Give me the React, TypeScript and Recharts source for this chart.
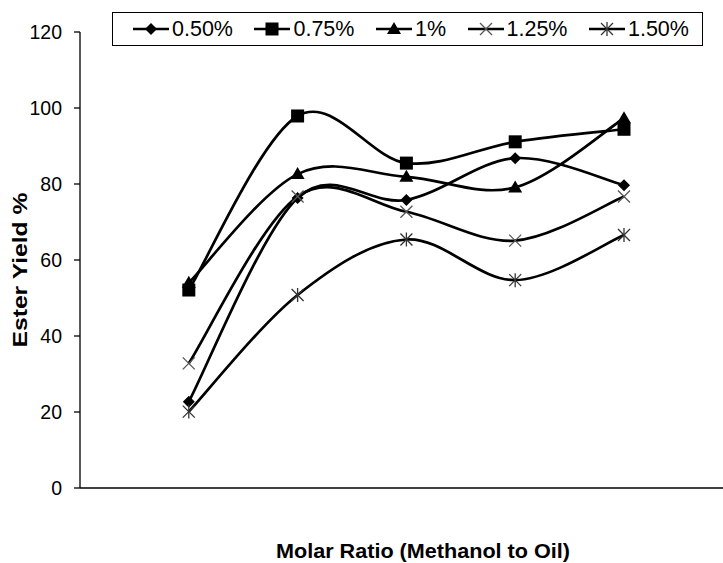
import React from 'react';
import { LineChart, Line, XAxis, YAxis, Label } from 'recharts';

// molar ratio steps (no tick labels shown on the original)
const ratioSteps = [1, 2, 3, 4, 5];
const yTicks = [0, 20, 40, 60, 80, 100, 120];

// ester yield % per catalyst concentration
const cat050 = [22.7, 76.3, 75.8, 86.8, 79.7];
const cat075 = [52.1, 97.9, 85.5, 91.1, 94.4];
const cat100 = [54.0, 82.6, 81.9, 79.1, 97.3];
const cat125 = [32.8, 76.7, 72.7, 65.1, 76.7];
const cat150 = [20.1, 50.8, 65.4, 54.7, 66.6];

const seriesNames = ['0.50%', '0.75%', '1%', '1.25%', '1.50%'];

const FONT = '"Liberation Sans", Arial, sans-serif';

const chartData = ratioSteps.map((x, i) => ({
  x,
  s050: cat050[i],
  s075: cat075[i],
  s100: cat100[i],
  s125: cat125[i],
  s150: cat150[i],
}));

// Excel-like smoothed line (Catmull-Rom through every point)
function excelSmooth(context: any) {
  let pts: [number, number][] = [];
  return {
    areaStart() {},
    areaEnd() {},
    lineStart() {
      pts = [];
    },
    lineEnd() {
      const n = pts.length;
      if (!n) return;
      context.moveTo(pts[0][0], pts[0][1]);
      for (let i = 0; i < n - 1; i++) {
        const p0 = pts[Math.max(i - 1, 0)];
        const p1 = pts[i];
        const p2 = pts[i + 1];
        const p3 = pts[Math.min(i + 2, n - 1)];
        context.bezierCurveTo(
          p1[0] + (p2[0] - p0[0]) / 6,
          p1[1] + (p2[1] - p0[1]) / 6,
          p2[0] - (p3[0] - p1[0]) / 6,
          p2[1] - (p3[1] - p1[1]) / 6,
          p2[0],
          p2[1]
        );
      }
    },
    point(x: number, y: number) {
      pts.push([+x, +y]);
    },
  };
}

type MarkProps = { cx?: number; cy?: number };

const Diamond = ({ cx = 0, cy = 0 }: MarkProps) => (
  <polygon points={`${cx},${cy - 6} ${cx + 6},${cy} ${cx},${cy + 6} ${cx - 6},${cy}`} fill="#000" />
);
const Square = ({ cx = 0, cy = 0 }: MarkProps) => (
  <rect x={cx - 6.5} y={cy - 6.5} width={13} height={13} fill="#000" />
);
const Triangle = ({ cx = 0, cy = 0 }: MarkProps) => (
  <polygon points={`${cx},${cy - 7} ${cx + 7},${cy + 5} ${cx - 7},${cy + 5}`} fill="#000" />
);
const Cross = ({ cx = 0, cy = 0 }: MarkProps) => (
  <g stroke="#555" strokeWidth={1.3}>
    <line x1={cx - 6} y1={cy - 6} x2={cx + 6} y2={cy + 6} />
    <line x1={cx - 6} y1={cy + 6} x2={cx + 6} y2={cy - 6} />
  </g>
);
const Star = ({ cx = 0, cy = 0 }: MarkProps) => (
  <g stroke="#333" strokeWidth={1.3}>
    <line x1={cx - 6} y1={cy - 6} x2={cx + 6} y2={cy + 6} />
    <line x1={cx - 6} y1={cy + 6} x2={cx + 6} y2={cy - 6} />
    <line x1={cx} y1={cy - 7} x2={cx} y2={cy + 7} />
  </g>
);

const markers = [Diamond, Square, Triangle, Cross, Star];
const keys = ['s050', 's075', 's100', 's125', 's150'];

const ChartLegend = () => (
  <div
    style={{
      position: 'absolute',
      left: 112,
      top: 12,
      width: 591,
      height: 34,
      boxSizing: 'border-box',
      border: '1px solid #000',
      background: '#fff',
      display: 'flex',
      alignItems: 'center',
      paddingLeft: 20,
      fontFamily: FONT,
      fontSize: 21.5,
      color: '#000',
    }}
  >
    {seriesNames.map((name, i) => {
      const Mark = markers[i];
      return (
        <div key={name} style={{ display: 'flex', alignItems: 'center', marginRight: 21.5 }}>
          <svg width={36} height={20} style={{ marginRight: 3 }}>
            <line x1={0} y1={10} x2={36} y2={10} stroke="#000" strokeWidth={2.5} />
            <Mark cx={18} cy={10} />
          </svg>
          <span>{name}</span>
        </div>
      );
    })}
  </div>
);

const YTitle = () => (
  <text
    x={27}
    y={270}
    transform="rotate(-90, 27, 270)"
    textAnchor="middle"
    fontFamily={FONT}
    fontWeight="bold"
    fontSize={21}
    fill="#000"
    textLength={155}
    lengthAdjust="spacingAndGlyphs"
  >
    Ester Yield %
  </text>
);

const XTitle = () => (
  <text
    x={423}
    y={558}
    textAnchor="middle"
    fontFamily={FONT}
    fontWeight="bold"
    fontSize={20}
    fill="#000"
    textLength={294}
    lengthAdjust="spacingAndGlyphs"
  >
    Molar Ratio (Methanol to Oil)
  </text>
);

const App: React.FC = () => {
  return (
    <div style={{ position: 'absolute', left: 0, top: 0, width: 723, height: 563, background: '#fff' }}>
      <LineChart width={723} height={563} data={chartData} margin={{ top: 32, right: 0, bottom: 0, left: 0 }}>
        <XAxis
          dataKey="x"
          type="number"
          domain={[0, 5.91]}
          ticks={[0, 1, 2, 3, 4, 5]}
          tick={false}
          tickSize={5}
          height={75}
          axisLine={{ stroke: '#000', strokeWidth: 1.3 }}
          tickLine={{ stroke: '#000', strokeWidth: 1.3 }}
        >
          <Label content={<XTitle />} />
        </XAxis>
        <YAxis
          domain={[0, 120]}
          ticks={yTicks}
          width={80}
          tickSize={6}
          tickMargin={12}
          axisLine={{ stroke: '#000', strokeWidth: 1.3 }}
          tickLine={{ stroke: '#000', strokeWidth: 1.3 }}
          tick={{ fill: '#000', fontSize: 19.5, fontFamily: FONT }}
        >
          <Label content={<YTitle />} />
        </YAxis>
        {keys.map((k, i) => {
          const Mark = markers[i];
          return (
            <Line
              key={k}
              dataKey={k}
              name={seriesNames[i]}
              type={excelSmooth as any}
              stroke="#000"
              strokeWidth={2.7}
              isAnimationActive={false}
              dot={(p: any) => <Mark key={`${k}-${p.index}`} cx={p.cx} cy={p.cy} />}
              activeDot={false}
            />
          );
        })}
      </LineChart>
      <ChartLegend />
    </div>
  );
};

export default App;
